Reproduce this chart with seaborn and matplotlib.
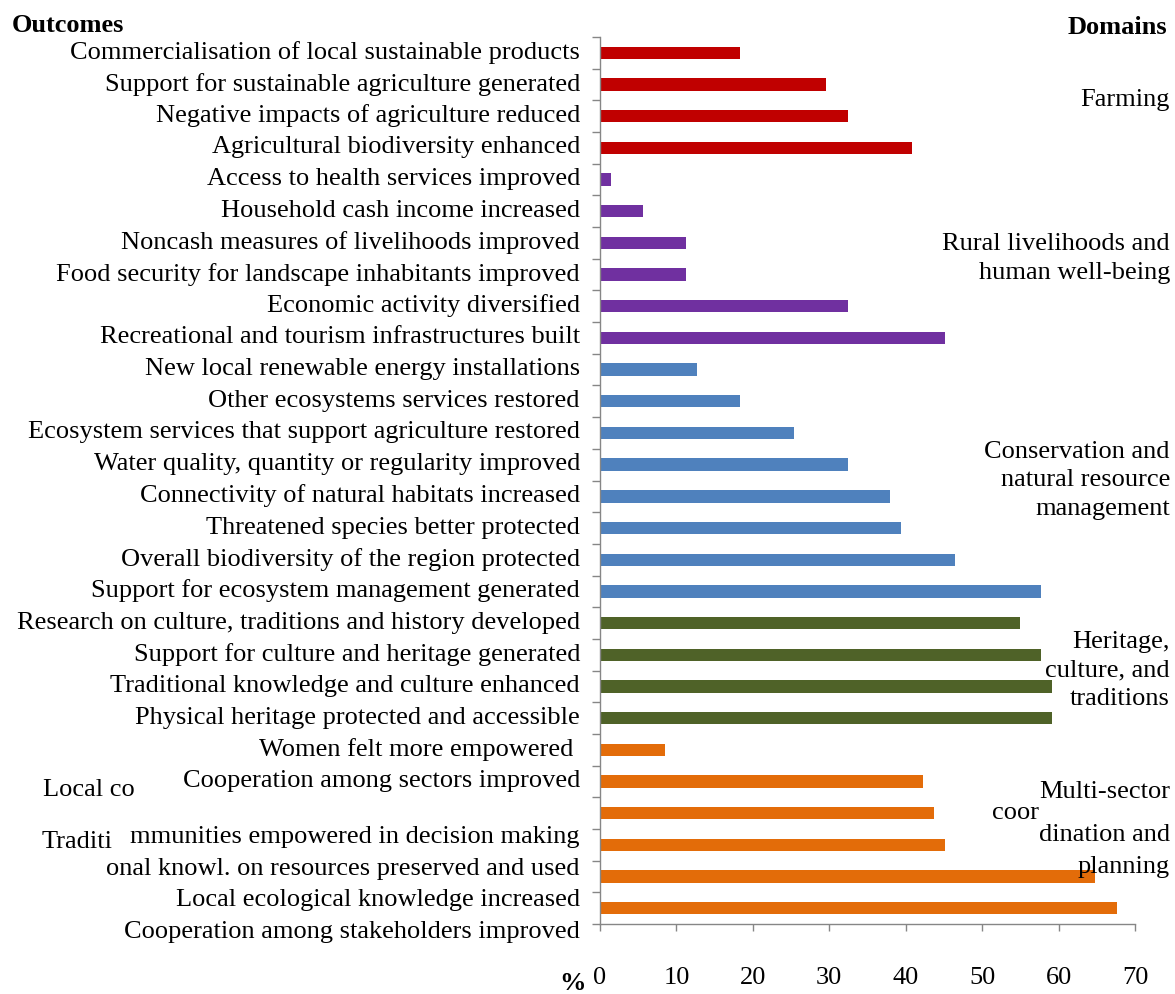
import numpy as np
import pandas as pd
import seaborn as sns
import matplotlib.pyplot as plt
import matplotlib.transforms as mtransforms

# outcomes, top to bottom, with % of landscapes reporting each one
outcomes = [
    "Commercialisation of local sustainable products",
    "Support for sustainable agriculture generated",
    "Negative impacts of agriculture reduced",
    "Agricultural biodiversity enhanced",
    "Access to health services improved",
    "Household cash income increased",
    "Noncash measures of livelihoods improved",
    "Food security for landscape inhabitants improved",
    "Economic activity diversified",
    "Recreational and tourism infrastructures built",
    "New local renewable energy installations",
    "Other ecosystems services restored",
    "Ecosystem services that support agriculture restored",
    "Water quality, quantity or regularity improved",
    "Connectivity of natural habitats increased",
    "Threatened species better protected",
    "Overall biodiversity of the region protected",
    "Support for ecosystem management generated",
    "Research on culture, traditions and history developed",
    "Support for culture and heritage generated",
    "Traditional knowledge and culture enhanced",
    "Physical heritage protected and accessible",
    "Women felt more empowered",
    "Cooperation among sectors improved",
    "Local communities empowered in decision making",
    "Traditional knowl. on resources preserved and used",
    "Local ecological knowledge increased",
    "Cooperation among stakeholders improved",
]
pct = [18.3, 29.6, 32.4, 40.8,
       1.4, 5.6, 11.3, 11.3, 32.4, 45.1,
       12.7, 18.3, 25.4, 32.4, 38.0, 39.4, 46.5, 57.7,
       54.9, 57.7, 59.2, 59.2,
       8.5, 42.3, 43.7, 45.1, 64.8, 67.6]

domain_keys = ["Farming", "Rural", "Conservation", "Heritage", "Multi-sector"]
domain_sizes = [4, 6, 8, 4, 6]
domain_colors = ["#C00000", "#7030A0", "#4F81BD", "#4F6228", "#E36C09"]

# the tick labels as they appear in the source (two wrapped badly)
tick_labels = list(outcomes)
tick_labels[22] = "Women felt more empowered "
tick_labels[24] = "mmunities empowered in decision making"
tick_labels[25] = "onal knowl. on resources preserved and used"

df = pd.DataFrame({
    "outcome": outcomes,
    "pct": pct,
    "domain": np.repeat(domain_keys, domain_sizes),
})

sns.set_style("white")
plt.rcParams["font.family"] = ["Liberation Serif", "DejaVu Serif"]
plt.rcParams["text.color"] = "black"
plt.rcParams["xtick.labelcolor"] = "black"
plt.rcParams["ytick.labelcolor"] = "black"

W, H = 1175, 994
fig = plt.figure(figsize=(W / 100, H / 100), dpi=100)
ax = fig.add_axes([600 / W, 1 - 924 / H, 535 / W, 887 / H])

sns.barplot(data=df, x="pct", y="outcome", hue="domain",
            palette=dict(zip(domain_keys, domain_colors)),
            dodge=False, width=0.39, orient="h", saturation=1,
            linewidth=0, legend=False, ax=ax)

ax.set_xlim(0, 70)
ax.set_ylim(len(outcomes) - 0.5, -0.5)
ax.set_xlabel("")
ax.set_ylabel("")

grey = "#868686"
fs = 19
for side in ["top", "right"]:
    ax.spines[side].set_visible(False)
for side in ["left", "bottom"]:
    ax.spines[side].set_color(grey)
    ax.spines[side].set_linewidth(1)

ax.set_xticks(range(0, 80, 10))
ax.tick_params(axis="x", bottom=True, length=5, width=1, color=grey,
               pad=26, labelsize=fs)

ax.set_yticks(range(len(outcomes)))
ax.set_yticklabels(tick_labels)
ax.set_yticks(np.arange(-0.5, len(outcomes), 1), minor=True)
ax.tick_params(axis="y", which="major", left=True, length=0, pad=14.4,
               labelsize=fs)
ax.tick_params(axis="y", which="minor", left=True, length=5.8, width=1,
               color=grey)

# the last labels sit lower than their bars in the source
for i, lab in enumerate(ax.get_yticklabels()):
    dy = 3 if i < 24 else -21.5
    lab.set_transform(lab.get_transform() +
                      mtransforms.ScaledTranslation(0, dy / 100, fig.dpi_scale_trans))

fig.text(12 / W, 1 - 25 / H, "Outcomes", fontsize=fs, fontweight="bold",
         ha="left", va="center")
fig.text(1167 / W, 1 - 27 / H, "Domains", fontsize=fs, fontweight="bold",
         ha="right", va="center")
fig.text(573 / W, 1 - 983 / H, "%", fontsize=fs, fontweight="bold",
         ha="center", va="center")

# broken-off pieces of the wrapped labels
fig.text(43 / W, 1 - 790 / H, "Local co", fontsize=fs, ha="left", va="center")
fig.text(42 / W, 1 - 842 / H, "Traditi", fontsize=fs, ha="left", va="center")

# domain names, centred on their group of bars
trans = mtransforms.blended_transform_factory(fig.transFigure, ax.transData)
starts = np.cumsum([0] + domain_sizes[:-1])
domain_text = ["Farming", "Rural livelihoods and\nhuman well-being",
               "Conservation and\nnatural resource\nmanagement",
               "Heritage,\nculture, and\ntraditions"]
for txt, s, n in zip(domain_text, starts, domain_sizes):
    fig.text(1170 / W, s + (n - 1) / 2, txt, transform=trans, fontsize=fs,
             ha="right", va="center", multialignment="right", linespacing=1.4)

fig.text(1170 / W, 1 - 792 / H, "Multi-sector", fontsize=fs, ha="right", va="center")
fig.text(992 / W, 1 - 813 / H, "coor", fontsize=fs, ha="left", va="center")
fig.text(1170 / W, 1 - 835 / H, "dination and", fontsize=fs, ha="right", va="center")
fig.text(1170 / W, 1 - 867 / H, "planning", fontsize=fs, ha="right", va="center")

fig.savefig("out.png", dpi=100, facecolor="white")
